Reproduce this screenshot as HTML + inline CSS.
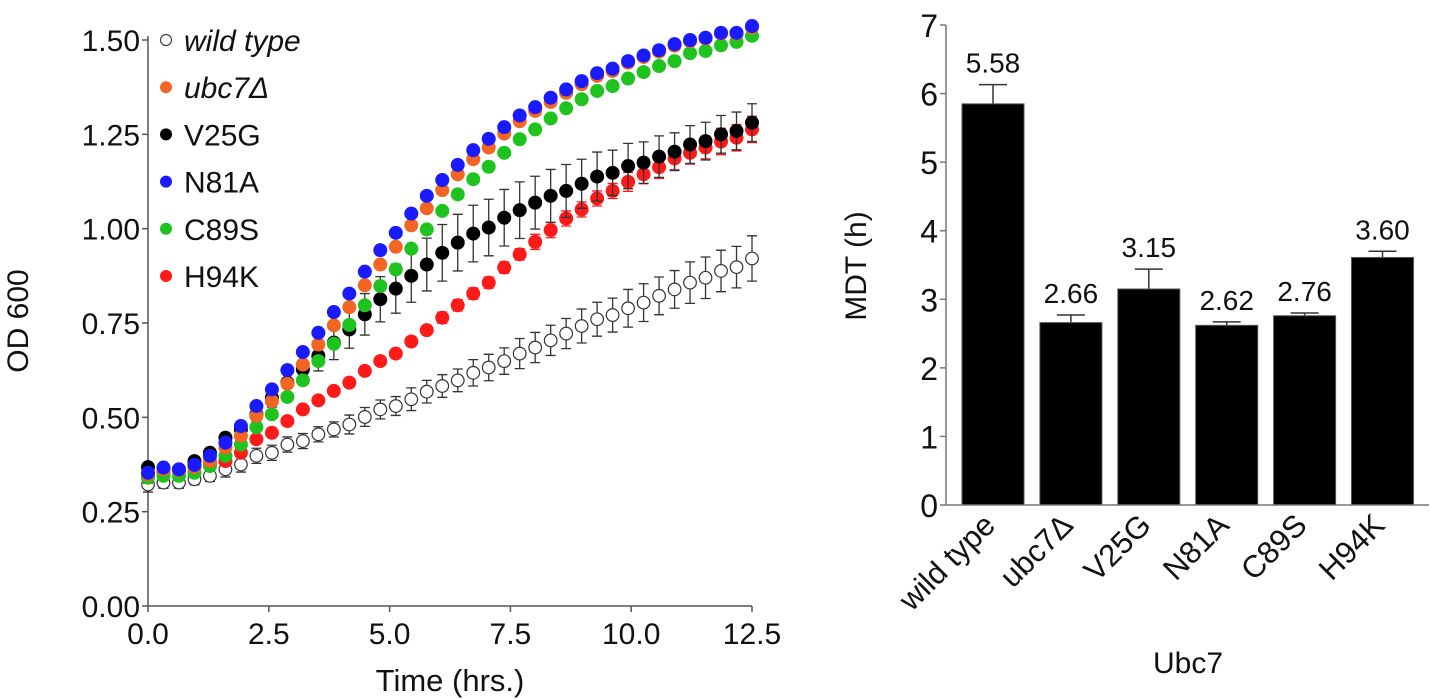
<!DOCTYPE html>
<html><head><meta charset="utf-8"><style>
html,body{margin:0;padding:0;background:#fff;}
svg{display:block;font-family:"Liberation Sans",Arial,sans-serif;}
</style></head><body>
<svg id="svg" width="1430" height="699" viewBox="0 0 1430 699"></svg>
<script>
// ---- growth curve data ----
const nPts = 40;
const tMax = 12.5;
const seriesNames = ["wild type","ubc7\u0394","V25G","N81A","C89S","H94K"];
const seriesColors = ["#fff","#f26522","#000","#1a1aff","#1ec31e","#ff1a1a"];
const wtVals = [0.322,0.327,0.327,0.336,0.345,0.362,0.375,0.398,0.406,0.428,0.437,0.455,0.468,0.481,0.501,0.521,0.530,0.548,0.568,0.583,0.598,0.618,0.632,0.649,0.669,0.685,0.704,0.722,0.742,0.760,0.771,0.789,0.804,0.822,0.839,0.857,0.870,0.888,0.898,0.921];
const ubcVals = [0.349,0.362,0.360,0.368,0.384,0.420,0.451,0.504,0.543,0.589,0.640,0.693,0.744,0.792,0.850,0.905,0.952,1.009,1.054,1.102,1.144,1.184,1.215,1.252,1.285,1.312,1.336,1.360,1.383,1.405,1.418,1.440,1.455,1.469,1.485,1.497,1.504,1.517,1.517,1.533];
const v25Vals = [0.368,0.362,0.362,0.384,0.406,0.446,0.468,0.508,0.552,0.592,0.627,0.663,0.698,0.733,0.773,0.813,0.841,0.875,0.905,0.936,0.963,0.987,1.003,1.029,1.049,1.069,1.087,1.100,1.119,1.138,1.148,1.166,1.175,1.191,1.204,1.223,1.232,1.250,1.259,1.281];
const n81Vals = [0.353,0.367,0.362,0.374,0.398,0.433,0.477,0.530,0.574,0.625,0.673,0.724,0.779,0.828,0.886,0.943,0.989,1.040,1.087,1.129,1.169,1.208,1.238,1.269,1.300,1.322,1.347,1.369,1.391,1.412,1.424,1.444,1.459,1.473,1.489,1.500,1.506,1.519,1.519,1.537];
const c89Vals = [0.340,0.345,0.345,0.353,0.371,0.398,0.428,0.474,0.508,0.554,0.598,0.649,0.695,0.745,0.797,0.848,0.892,0.947,0.998,1.047,1.091,1.131,1.164,1.201,1.237,1.263,1.292,1.319,1.343,1.365,1.378,1.398,1.415,1.431,1.444,1.465,1.471,1.486,1.495,1.511];
const h94Vals = [0.345,0.353,0.358,0.367,0.375,0.384,0.406,0.442,0.459,0.490,0.521,0.545,0.570,0.592,0.623,0.649,0.669,0.701,0.731,0.764,0.797,0.828,0.857,0.897,0.932,0.965,0.996,1.027,1.051,1.080,1.100,1.124,1.144,1.163,1.186,1.201,1.215,1.231,1.241,1.263];
const wtErr = [0.02,0.015,0.015,0.015,0.015,0.02,0.02,0.02,0.02,0.02,0.02,0.02,0.02,0.025,0.025,0.025,0.025,0.03,0.03,0.03,0.03,0.035,0.035,0.035,0.04,0.04,0.04,0.04,0.045,0.045,0.045,0.05,0.05,0.05,0.05,0.055,0.055,0.055,0.055,0.06];
const v25Err = [0.01,0.01,0.01,0.01,0.01,0.01,0.015,0.02,0.025,0.03,0.035,0.04,0.045,0.05,0.055,0.06,0.065,0.07,0.07,0.075,0.075,0.075,0.075,0.075,0.075,0.07,0.07,0.07,0.065,0.065,0.06,0.06,0.055,0.055,0.05,0.05,0.05,0.05,0.05,0.05];
const h94Err = [0.02,0.01,0.01,0.01,0.01,0.01,0.01,0.01,0.01,0.01,0.01,0.01,0.01,0.01,0.01,0.01,0.01,0.012,0.012,0.015,0.015,0.015,0.015,0.015,0.015,0.02,0.02,0.02,0.02,0.02,0.02,0.025,0.025,0.03,0.03,0.03,0.03,0.035,0.035,0.035];
const smallErr = 0.01;
const xTicks = ["0.0","2.5","5.0","7.5","10.0","12.5"];
const xTickVals = [0,2.5,5,7.5,10,12.5];
const yTicks = ["0.00","0.25","0.50","0.75","1.00","1.25","1.50"];
const yTickVals = [0,0.25,0.5,0.75,1,1.25,1.5];

// ---- bar chart data ----
const barCats = ["wild type","ubc7\u0394","V25G","N81A","C89S","H94K"];
const barVals = [5.85,2.66,3.15,2.62,2.76,3.61];
const barErrs = [0.28,0.11,0.29,0.05,0.04,0.09];
const barLabels = ["5.58","2.66","3.15","2.62","2.76","3.60"];
const barYTicks = [0,1,2,3,4,5,6,7];

const NS="http://www.w3.org/2000/svg";
const svg=document.getElementById('svg');
function mk(tag,attrs,parent){const e=document.createElementNS(NS,tag);for(const k in attrs)e.setAttribute(k,attrs[k]);(parent||svg).appendChild(e);return e;}

const X0=148,X1=752,Y0=606,Y1=40;
const xs=t=>X0+(t/tMax)*(X1-X0);
const ys=v=>Y0-(v/1.5)*(Y0-Y1);

const gL=mk('g',{});


let ax=mk('line',{x1:X0,y1:Y0,x2:X1,y2:Y0,stroke:'#555','stroke-width':1.5},gL);


ax=mk('line',{x1:X0,y1:Y0,x2:X0,y2:Y1-4,stroke:'#555','stroke-width':1.5},gL);


xTickVals.forEach((v,i)=>{
  mk('line',{x1:xs(v),y1:Y0,x2:xs(v),y2:Y0+6,stroke:'#555','stroke-width':1.5},gL);
  const t=mk('text',{x:xs(v),y:Y0+38,'text-anchor':'middle','font-size':30,fill:'#111'},gL);
  t.textContent=xTicks[i];
  
  
});
yTickVals.forEach((v,i)=>{
  mk('line',{x1:X0-6,y1:ys(v),x2:X0,y2:ys(v),stroke:'#555','stroke-width':1.5},gL);
  const t=mk('text',{x:X0-8,y:ys(v)+11,'text-anchor':'end','font-size':30,fill:'#111'},gL);
  t.textContent=yTicks[i];
  
  
});
let lab=mk('text',{x:0,y:0,transform:'translate(28,321) rotate(-90)','text-anchor':'middle','font-size':30,fill:'#111'},gL);
lab.textContent='OD 600';


lab=mk('text',{x:450,y:691,'text-anchor':'middle','font-size':31,fill:'#111'},gL);
lab.textContent='Time (hrs.)';



const allVals=[wtVals,ubcVals,v25Vals,n81Vals,c89Vals,h94Vals];
const allErr=[wtErr,null,v25Err,null,null,h94Err];
const errColors=["#333","#f26522","#333","#1a1aff","#1ec31e","#ff1a1a"];
const drawOrder=[0,5,2,4,1,3];
drawOrder.forEach(si=>{
  const g=mk('g',{},gL);
  
  
  const vals=allVals[si];
  for(let i=0;i<nPts;i++){
    const t=i*tMax/(nPts-1);
    const e=allErr[si]?allErr[si][i]:smallErr;
    const cx=xs(t),y=ys(vals[i]),yh=ys(vals[i]+e),yl=ys(vals[i]-e);
    mk('path',{d:`M${cx},${yh}V${yl}M${cx-5},${yh}H${cx+5}M${cx-5},${yl}H${cx+5}`,stroke:errColors[si],'stroke-width':1.3,fill:'none'},g);
    const c=mk('circle',{cx:cx,cy:y,r:si===0?6.3:7,fill:seriesColors[si],stroke:si===0?'#333':'none','stroke-width':1.2},g);
    
    
  }
});
const lg=mk('g',{},gL);


seriesNames.forEach((n,i)=>{
  const y=40+i*47.2;
  const c=mk('circle',{cx:166,cy:y,r:i===0?5.5:6,fill:seriesColors[i],stroke:i===0?'#444':'none','stroke-width':1.2},lg);
  
  
  const t=mk('text',{x:184,y:y+11,'font-size':30,fill:'#111','font-style':i<2?'italic':'normal'},lg);
  t.textContent=n;
  
  
});

// ---- bar chart ----
const BX0=946,BX1=1429,BY0=505,BY1=25;
const bys=v=>BY0-(v/7)*(BY0-BY1);
const bxs=i=>962+i*77.9;
const BW=62;
const gR=mk('g',{});


barCats.forEach((c,i)=>{
  const x=bxs(i),cx=x+BW/2;
  const eTop=bys(barVals[i]+barErrs[i]);
  mk('path',{d:`M${cx},${bys(barVals[i])}V${eTop}M${cx-14},${eTop}H${cx+14}`,stroke:'#333','stroke-width':1.5,fill:'none'},gR);
  const r=mk('rect',{x:x,y:bys(barVals[i]),width:BW,height:BY0-bys(barVals[i]),fill:'#000',stroke:'#555','stroke-width':1},gR);
  
  
  const t=mk('text',{x:cx,y:eTop-12,'text-anchor':'middle','font-size':28,fill:'#111'},gR);
  t.textContent=barLabels[i];
  
  
  const ct=mk('text',{x:0,y:0,transform:`translate(${cx+4},${BY0+22}) rotate(-45)`,'text-anchor':'end','font-size':31,fill:'#111'},gR);
  ct.textContent=c;
  
  
});
ax=mk('line',{x1:BX0,y1:BY0,x2:BX1,y2:BY0,stroke:'#777','stroke-width':1.5},gR);


ax=mk('line',{x1:BX0,y1:BY0,x2:BX0,y2:BY1,stroke:'#777','stroke-width':1.5},gR);


barYTicks.forEach(v=>{
  mk('line',{x1:BX0-6,y1:bys(v),x2:BX0,y2:bys(v),stroke:'#777','stroke-width':1.5},gR);
  const t=mk('text',{x:BX0-8,y:bys(v)+12,'text-anchor':'end','font-size':32,fill:'#111'},gR);
  t.textContent=v;
  
  
});
lab=mk('text',{x:0,y:0,transform:'translate(866,266) rotate(-90)','text-anchor':'middle','font-size':30,fill:'#111'},gR);
lab.textContent='MDT (h)';


lab=mk('text',{x:1188,y:673,'text-anchor':'middle','font-size':30,fill:'#111'},gR);
lab.textContent='Ubc7';


</script>
</body></html>
